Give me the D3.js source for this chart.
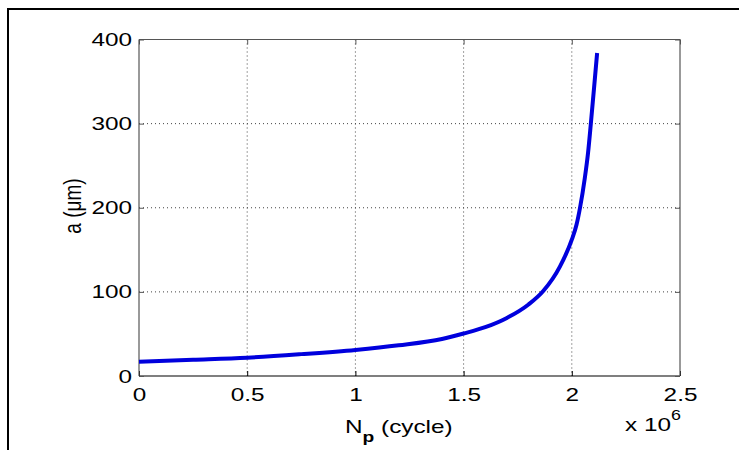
<!DOCTYPE html>
<html><head><meta charset="utf-8">
<script src="https://cdn.jsdelivr.net/npm/d3@7"></script>
<style>body{margin:0;background:#fff}svg{display:block}text{font-family:"Liberation Sans",Arial,sans-serif;fill:#000}</style>
</head><body>
<svg id="c" width="739" height="450"></svg>
<script>
// cycles (x 1e6)
const cycles = [0, 0.25, 0.5, 0.75, 1.0, 1.2, 1.4, 1.5, 1.6, 1.7, 1.8, 1.868, 1.945, 2.0, 2.022, 2.038, 2.06, 2.075, 2.088, 2.103, 2.117];
// crack length a (um)
const crack = [17, 19.3, 21.8, 26, 31, 36.5, 44, 50.5, 58, 69, 85, 101, 130, 162, 180, 200, 235, 265, 300, 343, 384];
const xTicks = [0, 0.5, 1, 1.5, 2, 2.5];
const yTicks = [0, 100, 200, 300, 400];

const SX = 1.28; // horizontal stretch of the reference's lettering
const svg = d3.select("#c");
const L = 139, R = 680, T = 39.5, B = 376;
const x = d3.scaleLinear().domain([0, 2.5]).range([L, R]);
const y = d3.scaleLinear().domain([0, 400]).range([B, T]);

// outer frame
svg.append("rect").attr("x", 8).attr("y", 9).attr("width", 760).attr("height", 480)
  .attr("fill", "none").attr("stroke", "#000").attr("stroke-width", 2);

// grid
const g = svg.append("g");
g.selectAll("line.gx").data(xTicks.slice(1, -1)).join("line")
  .attr("x1", d => x(d)).attr("x2", d => x(d)).attr("y1", T).attr("y2", B)
  .attr("stroke", "#444").attr("stroke-width", 1).attr("stroke-dasharray", "1,3");
g.selectAll("line.gy").data(yTicks.slice(1, -1)).join("line")
  .attr("y1", d => y(d)).attr("y2", d => y(d)).attr("x1", L).attr("x2", R)
  .attr("stroke", "#444").attr("stroke-width", 1).attr("stroke-dasharray", "1,3");

// axes with inward ticks
const xb = d3.axisBottom(x).tickValues(xTicks).tickSize(-5).tickPadding(12).tickFormat(d => String(d));
const xt = d3.axisTop(x).tickValues(xTicks).tickSize(-5).tickFormat("");
const yl = d3.axisLeft(y).tickValues(yTicks).tickSize(-5).tickPadding(7).tickFormat(d => String(d));
const yr = d3.axisRight(y).tickValues(yTicks).tickSize(-5).tickFormat("");

function style(sel, col) {
  sel.select(".domain").attr("stroke", col).attr("stroke-width", 1.2);
  sel.selectAll(".tick line").attr("stroke", col);
  sel.selectAll(".tick text").attr("font-size", 19).attr("font-family", "Liberation Sans, Arial, sans-serif").attr("fill", "#000");
}
const gxb = svg.append("g").attr("transform", `translate(0,${B})`).call(xb); style(gxb, "#000");
gxb.select(".domain").attr("d", `M${L},0H${R}`);
gxb.selectAll(".tick text").attr("transform", `scale(${SX},1)`);
const gxt = svg.append("g").attr("transform", `translate(0,${T})`).call(xt); style(gxt, "#555");
gxt.select(".domain").attr("d", `M${L},0H${R}`);
const gyl = svg.append("g").attr("transform", `translate(${L},0)`).call(yl); style(gyl, "#555");
gyl.select(".domain").attr("d", `M0,${B}V${T}`);
gyl.selectAll(".tick text").attr("x", -7 / SX).attr("transform", `scale(${SX},1)`);
const gyr = svg.append("g").attr("transform", `translate(${R},0)`).call(yr); style(gyr, "#555");
gyr.select(".domain").attr("d", `M0,${B}V${T}`);

// curve
svg.append("path").datum(cycles.map((c, i) => [c, crack[i]]))
  .attr("d", d3.line().x(d => x(d[0])).y(d => y(d[1])).curve(d3.curveMonotoneX))
  .attr("fill", "none").attr("stroke", "#0000dd").attr("stroke-width", 4)
  .attr("stroke-linejoin", "round");

// x label
const xl = svg.append("text").attr("transform", `translate(345,433) scale(${SX},1)`).attr("font-size", 19);
xl.append("tspan").text("N");
xl.append("tspan").attr("dy", 9).attr("font-size", 15).attr("font-weight", "bold").text("p");
xl.append("tspan").attr("dy", -9).text(" (cycle)");

// multiplier
const m = svg.append("text").attr("transform", `translate(625,431) scale(${SX},1)`).attr("font-size", 19);
m.append("tspan").text("x 10");
m.append("tspan").attr("dy", -11).attr("font-size", 14).text("6");

// y label
svg.append("text").attr("transform", `translate(81,206) scale(${SX},1) rotate(-90)`)
  .attr("text-anchor", "middle").attr("font-size", 19).text("a (μm)");
</script>
</body></html>
